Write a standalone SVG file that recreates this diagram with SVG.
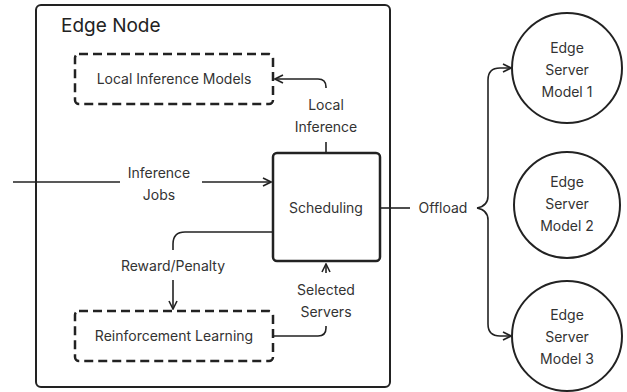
<svg xmlns="http://www.w3.org/2000/svg" width="627" height="392" viewBox="0 0 627 392">
<style>
text{font-family:Inter,"Noto Sans","Liberation Sans",sans-serif;font-size:14px;fill:#333;text-anchor:middle;}
.title{font-size:19px;text-anchor:start;fill:#222;}
.box{fill:#fff;stroke:#222;stroke-width:2.5;}
.dash{fill:none;stroke:#222;stroke-width:2.5;stroke-dasharray:9 5;}
.ln{fill:none;stroke:#222;stroke-width:1.6;}
</style>
<defs>
<marker id="arr" viewBox="0 0 10 10" refX="9" refY="5" markerWidth="10" markerHeight="10" markerUnits="userSpaceOnUse" orient="auto">
<path d="M1,1 L9,5 L1,9" fill="none" stroke="#222" stroke-width="1.6"/>
</marker>
</defs>
<g id="edge-node">
<rect x="36" y="5" width="354" height="382" rx="5" fill="#fff" stroke="#222" stroke-width="2"/>
<text class="title" x="61" y="32">Edge Node</text>
</g>
<g id="local-models">
<rect class="dash" x="75" y="54" width="198" height="50" rx="4"/>
<text x="174" y="84">Local Inference Models</text>
</g>
<g id="scheduling">
<rect class="box" x="273" y="153" width="107" height="108" rx="4"/>
<text x="326" y="213">Scheduling</text>
</g>
<g id="rl">
<rect class="dash" x="75" y="311" width="198" height="50" rx="4"/>
<text x="174" y="341">Reinforcement Learning</text>
</g>
<g id="server1">
<circle cx="567" cy="68" r="55" fill="#fff" stroke="#222" stroke-width="2"/>
<text x="567" y="53">Edge</text>
<text x="567" y="75">Server</text>
<text x="567" y="97">Model 1</text>
</g>
<g id="server2">
<circle cx="567" cy="205" r="53" fill="#fff" stroke="#222" stroke-width="2"/>
<text x="567" y="187">Edge</text>
<text x="567" y="209">Server</text>
<text x="567" y="231">Model 2</text>
</g>
<g id="server3">
<circle cx="567" cy="336" r="55" fill="#fff" stroke="#222" stroke-width="2"/>
<text x="567" y="320">Edge</text>
<text x="567" y="342">Server</text>
<text x="567" y="364">Model 3</text>
</g>
<g id="connectors">
<path class="ln" d="M326,88 L326,87 Q326,79 318,79 L275,79" marker-end="url(#arr)"/>
<text x="326" y="110">Local</text>
<text x="326" y="132">Inference</text>
<path class="ln" d="M326,142 L326,153"/>
<path class="ln" d="M13,182 L120,182"/>
<text x="159" y="178">Inference</text>
<text x="159" y="200">Jobs</text>
<path class="ln" d="M202,182 L271,182" marker-end="url(#arr)"/>
<path class="ln" d="M273,232 L185,232 Q173,232 173,244 L173,250"/>
<text x="173" y="271">Reward/Penalty</text>
<path class="ln" d="M173,280 L173,309" marker-end="url(#arr)"/>
<path class="ln" d="M273,336 L318,336 Q326,336 326,328 L326,326"/>
<text x="326" y="295">Selected</text>
<text x="326" y="317">Servers</text>
<path class="ln" d="M326,273 L326,264" marker-end="url(#arr)"/>
<path class="ln" d="M380,208 L410,208"/>
<text x="443" y="213">Offload</text>
<path class="ln" d="M477,208 Q488,206 488,196 L488,80 Q488,68 500,68 L511,68" marker-end="url(#arr)"/>
<path class="ln" d="M477,208 Q488,210 488,220 L488,324 Q488,336 500,336 L511,336" marker-end="url(#arr)"/>
</g>
</svg>
